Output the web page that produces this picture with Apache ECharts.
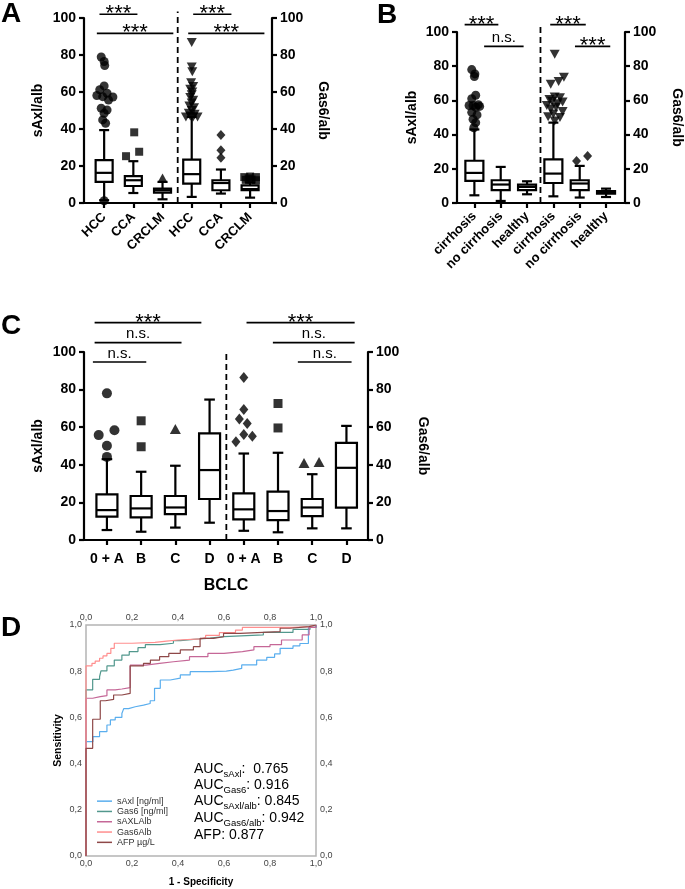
<!DOCTYPE html>
<html>
<head>
<meta charset="utf-8">
<script src="https://cdn.jsdelivr.net/npm/echarts@6/dist/echarts.min.js"></script>
<style>
  html, body { margin: 0; padding: 0; background: #fff; }
  #chart { width: 685px; height: 889px; }
</style>
</head>
<body>
<div id="chart"></div>
<script>
const FONT = '"Liberation Sans", Arial, Helvetica, sans-serif';

// ---- panel A : HCC / CCA / CRCLM (sAxl left half, Gas6 right half)
const catsA = ['HCC', 'CCA', 'CRCLM', 'HCC', 'CCA', 'CRCLM'];
// [min, q1, median, q3, max]
const boxA = [
  [1.5, 11.4, 16.3, 23.2, 39.4],
  [5.4, 9.2, 12.3, 14.5, 22.6],
  [2.0, 5.6, 6.9, 7.8, 11.4],
  [3.3, 10.5, 15.6, 23.5, 46.5],
  [5.1, 6.9, 10.8, 12.3, 18.1],
  [2.9, 6.9, 7.5, 9.5, 11.0]
];
const circA = [[-0.1, 78.9], [0.0, 76.5], [0.02, 74.3], [0.0, 63.3], [-0.15, 61.2], [0.1, 59.3], [-0.25, 58.1],
  [-0.05, 57.5], [0.3, 57.3], [0.15, 55.7], [-0.1, 51.2], [0.1, 50.3], [0.0, 48.5], [-0.05, 44.9], [0.05, 43.1], [0, 1.2]];
const squareA = [[1.03, 38.2], [1.2, 27.7], [0.75, 25.3],
  [4.8, 14], [5.0, 14.3], [5.2, 14], [4.85, 12.5], [5.05, 12.7], [5.2, 12.3], [4.95, 13.3]];
const triUpA = [[2, 13.5]];
const triDownA = [[3, 86.8], [3, 73.5], [3.02, 71], [2.98, 65], [3.05, 63], [2.95, 61.5], [3.02, 60], [3, 58.5],
  [2.95, 57], [3.05, 55.5], [3, 54], [2.92, 52.5], [3.08, 51.5], [3, 50], [2.9, 48.5], [3.1, 48], [2.95, 47],
  [3.05, 46.5], [2.8, 46.5], [3.2, 46.5]];
const diamondA = [[4, 36.7], [4, 28.5], [4, 24.5]];
const sigA = [[-0.16, 1.14, 102, '***'], [-0.25, 2.37, 91.7, '***'], [3.05, 4.36, 102, '***'], [2.88, 5.49, 91.7, '***']];
const dashA = [2.52, 103.5];

// ---- panel B : cirrhosis / no cirrhosis / healthy
const catsB = ['cirrhosis', 'no cirrhosis', 'healthy', 'cirrhosis', 'no cirrhosis', 'healthy'];
const boxB = [
  [4.5, 12.9, 17.6, 24.7, 43],
  [1.2, 7.5, 10.8, 13.3, 21.1],
  [5.1, 7.5, 9.4, 10.8, 12.7],
  [3.9, 11.7, 17.2, 25.5, 47],
  [3.2, 7.5, 11.4, 13.3, 21.7],
  [3.5, 5.5, 6.3, 6.9, 8.4]
];
const circB = [[-0.1, 78], [0.02, 75.5], [0.0, 74], [0.05, 63], [-0.1, 61], [0.15, 57.5], [-0.2, 57], [-0.05, 57],
  [0.2, 56.5], [0.05, 56], [-0.1, 53], [0.1, 51.5], [-0.05, 49], [0.05, 47], [-0.02, 44]];
const triDownB = [[3.05, 87], [3.4, 73.5], [3.2, 71], [2.9, 69.5], [3.05, 62], [3.25, 61.5], [2.85, 60.5],
  [2.95, 59.5], [3.35, 59], [3.15, 58], [2.75, 57], [3.1, 56], [2.9, 55], [3.35, 53.5], [3.0, 52], [2.8, 50.5],
  [3.25, 50], [3.05, 48]];
const diamondB = [[3.88, 24.5], [4.3, 27.5]];
const sigB = [[-0.37, 0.91, 104.3, '***'], [0.37, 1.87, 91.6, 'n.s.'], [2.88, 4.23, 104.3, '***'], [3.82, 5.16, 91.6, '***']];
const dashB = [2.51, 104.5];

// ---- panel C : BCLC stages
const catsC = ['0 + A', 'B', 'C', 'D', '0 + A', 'B', 'C', 'D'];
const boxC = [
  [5.3, 12.4, 15.9, 24.3, 43],
  [4.4, 12.0, 16.8, 23.4, 36.3],
  [6.6, 13.8, 17.3, 23.4, 39.5],
  [9.2, 21.8, 37.2, 56.7, 74.7],
  [4.9, 11.0, 16.3, 24.8, 46.0],
  [4.1, 10.6, 15.4, 25.7, 46.4],
  [6.2, 12.7, 17.3, 21.8, 35.0],
  [6.2, 17.2, 38.4, 51.7, 60.7]
];
const circC = [[0, 78], [0.22, 58.4], [-0.24, 55.8], [0, 50.1], [0, 44.2]];
const squareC = [[1, 63.4], [1, 49.6], [5, 72.6], [5, 59.6]];
const triUpC = [[2, 59], [5.76, 41], [6.2, 41.5]];
const diamondC = [[4, 86.4], [4, 69.4], [3.87, 64.3], [4.1, 62], [4, 56.1], [4.25, 55.2], [3.77, 52.2]];
const sigC = [[-0.41, 1.15, 94.7, 'n.s.'], [-0.36, 2.18, 105, 'n.s.'], [-0.36, 2.76, 115.6, '***'],
  [5.58, 7.15, 94.7, 'n.s.'], [4.85, 7.24, 105, 'n.s.'], [4.08, 7.24, 115.6, '***']];
const dashC = [3.49, 101];

// ---- panel D : ROC curves, [1 - specificity, sensitivity]
const rocNames = ['sAxl [ng/ml]', 'Gas6 [ng/ml]', 'sAXLAlb', 'Gas6Alb', 'AFP µg/L'];
const rocColors = ['#5aaeee', '#52988d', '#c56797', '#ff8e8e', '#8e4848'];
const rocSAxl = [[0, 0], [0, 0.495], [0.03, 0.517], [0.059, 0.538], [0.091, 0.567], [0.106, 0.589], [0.127, 0.6],
  [0.156, 0.617], [0.164, 0.638], [0.185, 0.646], [0.214, 0.653], [0.25, 0.66], [0.279, 0.672], [0.298, 0.726],
  [0.323, 0.762], [0.366, 0.77], [0.41, 0.784], [0.453, 0.798], [0.54, 0.8], [0.61, 0.805], [0.64, 0.812],
  [0.677, 0.827], [0.742, 0.848], [0.786, 0.86], [0.82, 0.875], [0.844, 0.899], [0.9, 0.91], [0.93, 0.92],
  [0.967, 0.99], [1, 1]];
const rocGas6 = [[0, 0], [0, 0.719], [0.029, 0.765], [0.059, 0.776], [0.065, 0.801], [0.091, 0.823], [0.123, 0.848],
  [0.156, 0.87], [0.188, 0.885], [0.226, 0.902], [0.258, 0.915], [0.322, 0.921], [0.38, 0.932], [0.41, 0.938],
  [0.467, 0.943], [0.54, 0.95], [0.6, 0.957], [0.771, 0.968], [0.9, 0.981], [0.974, 0.99], [1, 1]];
const rocSAxlAlb = [[0, 0], [0, 0.683], [0.029, 0.69], [0.062, 0.694], [0.091, 0.719], [0.127, 0.723],
  [0.156, 0.729], [0.192, 0.826], [0.26, 0.834], [0.32, 0.841], [0.38, 0.848], [0.45, 0.863], [0.53, 0.877],
  [0.6, 0.885], [0.68, 0.892], [0.73, 0.906], [0.8, 0.915], [0.85, 0.935], [0.94, 0.957], [0.97, 0.99], [1, 1]];
const rocGas6Alb = [[0, 0], [0, 0.823], [0.026, 0.834], [0.04, 0.844], [0.059, 0.856], [0.074, 0.866],
  [0.091, 0.877], [0.108, 0.899], [0.123, 0.921], [0.2, 0.925], [0.3, 0.93], [0.35, 0.935], [0.4, 0.94],
  [0.5, 0.945], [0.52, 0.955], [0.58, 0.967], [0.65, 0.978], [0.68, 0.99], [0.9, 0.993], [0.97, 1], [1, 1]];
const rocAFP = [[0, 0], [0, 0.466], [0.029, 0.592], [0.062, 0.672], [0.084, 0.678], [0.12, 0.697], [0.156, 0.704],
  [0.192, 0.823], [0.25, 0.834], [0.28, 0.848], [0.32, 0.863], [0.36, 0.877], [0.41, 0.892], [0.467, 0.906],
  [0.496, 0.942], [0.554, 0.949], [0.598, 0.964], [0.67, 0.971], [0.844, 0.986], [0.887, 0.993], [0.97, 1], [1, 1]];
const rocData = [rocSAxl, rocGas6, rocSAxlAlb, rocGas6Alb, rocAFP];
const aucLines = [['AUC', 'sAxl', ':  0.765'], ['AUC', 'Gas6', ': 0.916'], ['AUC', 'sAxl/alb', ': 0.845'],
  ['AUC', 'Gas6/alb', ': 0.942'], ['AFP', '', ': 0.877']];

const invTriangle = 'path://M0,0L10,0L5,9Z';

const myChart = echarts.init(document.getElementById('chart'));

// black GraphPad style axes
const blackLine = { color: '#000', width: 2.2 };
function yBlack(grid, pos, name, gap) {
  return {
    type: 'value', gridIndex: grid, position: pos, min: 0, max: 100, interval: 20,
    name: name, nameLocation: 'middle', nameGap: gap, nameRotate: pos === 'left' ? 90 : -90,
    nameTextStyle: { color: '#000', fontFamily: FONT, fontWeight: 'bold', fontSize: 14 },
    axisLine: { show: true, onZero: false, lineStyle: blackLine },
    axisTick: { show: true, length: 5, lineStyle: blackLine },
    axisLabel: { color: '#000', fontFamily: FONT, fontWeight: 'bold', fontSize: 14, margin: 8 },
    splitLine: { show: false }
  };
}
function xBlack(grid, cats, min, max, rotate, fontSize, margin) {
  const idx = cats.map((c, i) => i);
  return {
    type: 'value', gridIndex: grid, position: 'bottom', min: min, max: max,
    axisLine: { show: true, onZero: false, lineStyle: blackLine },
    axisTick: { show: true, length: 5, lineStyle: blackLine, customValues: idx },
    axisLabel: {
      customValues: idx, rotate: rotate, margin: margin,
      color: '#000', fontFamily: FONT, fontWeight: 'bold', fontSize: fontSize,
      formatter: (v) => cats[Math.round(v)]
    },
    splitLine: { show: false }
  };
}
function xRoc(pos, name) {
  return {
    type: 'value', gridIndex: 3, position: pos, min: 0, max: 1, interval: 0.2,
    name: name, nameLocation: 'middle', nameGap: 21,
    nameTextStyle: { color: '#000', fontFamily: FONT, fontWeight: 'bold', fontSize: 10 },
    axisLine: { show: false }, axisTick: { show: false }, splitLine: { show: false },
    axisLabel: { color: '#444', fontFamily: FONT, fontSize: 9, margin: 3,
      formatter: (v) => v.toFixed(1).replace('.', ',') }
  };
}
function yRoc(pos, name) {
  const ax = xRoc(pos, name);
  ax.nameGap = 22;
  ax.nameTextStyle.fontSize = 10.5;
  ax.axisLabel.margin = 4;
  return ax;
}

function boxSeries(xi, yi, list, start, halfW, capW) {
  return {
    type: 'custom', xAxisIndex: xi, yAxisIndex: yi, silent: true, z: 2,
    data: list.map((b, i) => [start + i].concat(b)),
    encode: { x: 0, y: [1, 2, 3, 4, 5] },
    renderItem: function (params, api) {
      const x = api.value(0);
      const p = [1, 2, 3, 4, 5].map((d) => api.coord([x, api.value(d)]));
      const cx = p[0][0];
      const st = { stroke: '#000', lineWidth: 2.2 };
      return {
        type: 'group',
        children: [
          { type: 'line', shape: { x1: cx, y1: p[0][1], x2: cx, y2: p[1][1] }, style: st },
          { type: 'line', shape: { x1: cx, y1: p[3][1], x2: cx, y2: p[4][1] }, style: st },
          { type: 'line', shape: { x1: cx - capW, y1: p[0][1], x2: cx + capW, y2: p[0][1] }, style: st },
          { type: 'line', shape: { x1: cx - capW, y1: p[4][1], x2: cx + capW, y2: p[4][1] }, style: st },
          { type: 'rect', shape: { x: cx - halfW, y: p[3][1], width: halfW * 2, height: p[1][1] - p[3][1] },
            style: { fill: '#fff', stroke: '#000', lineWidth: 2.2 } },
          { type: 'line', shape: { x1: cx - halfW, y1: p[2][1], x2: cx + halfW, y2: p[2][1] }, style: st }
        ]
      };
    }
  };
}

function dots(xi, yi, data, symbol, size) {
  return {
    type: 'scatter', xAxisIndex: xi, yAxisIndex: yi, data: data, symbol: symbol, symbolSize: size,
    itemStyle: { color: '#000' }, clip: false, silent: true, z: 3
  };
}

function sigSeries(xi, yi, list) {
  return {
    type: 'custom', xAxisIndex: xi, yAxisIndex: yi, silent: true, z: 4,
    data: list.map((s) => [s[0], s[1], s[2]]),
    encode: { x: [0, 1], y: 2 },
    renderItem: function (params, api) {
      const a = api.coord([api.value(0), api.value(2)]);
      const b = api.coord([api.value(1), api.value(2)]);
      const txt = list[params.dataIndex][3];
      const star = txt === '***';
      return {
        type: 'group',
        children: [
          { type: 'line', shape: { x1: a[0], y1: a[1], x2: b[0], y2: b[1] }, style: { stroke: '#000', lineWidth: 1.6 } },
          { type: 'text', x: (a[0] + b[0]) / 2, y: a[1] + (star ? 11 : -1),
            style: { text: txt, fill: '#000', fontFamily: FONT, fontSize: star ? 22 : 15,
              align: 'center', textAlign: 'center', verticalAlign: 'bottom', textVerticalAlign: 'bottom' } }
        ]
      };
    }
  };
}

function dashSeries(xi, yi, d) {
  return {
    type: 'line', xAxisIndex: xi, yAxisIndex: yi, data: [[d[0], 0], [d[0], d[1]]],
    symbol: 'none', clip: false, silent: true,
    lineStyle: { color: '#000', width: 1.8, type: [6, 4] }
  };
}

const titleStyle = { fontSize: 28, fontWeight: 'bold', fontFamily: FONT, color: '#000' };

const option = {
  animation: false,
  backgroundColor: '#fff',
  title: [
    { text: 'A', left: 1, top: 0, padding: 0, textStyle: titleStyle },
    { text: 'B', left: 377, top: 1, padding: 0, textStyle: titleStyle },
    { text: 'C', left: 1, top: 312, padding: 0, textStyle: titleStyle },
    { text: 'D', left: 1, top: 614, padding: 0, textStyle: titleStyle }
  ],
  legend: {
    data: rocNames, orient: 'vertical', left: 97, top: 796, padding: 0,
    icon: 'rect', itemWidth: 15, itemHeight: 1.5, itemGap: 0,
    textStyle: { fontFamily: FONT, fontSize: 9, color: '#333', lineHeight: 10.3 }
  },
  grid: [
    { left: 84, top: 18, width: 188, height: 185 },
    { left: 457, top: 32, width: 171, height: 171 },
    { left: 84, top: 352, width: 284, height: 188 },
    { left: 86, top: 625, width: 230, height: 231, show: true, borderColor: '#b4b4b4', borderWidth: 1.5 }
  ],
  xAxis: [
    xBlack(0, catsA, -0.69, 5.75, 45, 13, 12),
    xBlack(1, catsB, -0.66, 5.72, 45, 13, 11),
    Object.assign(xBlack(2, catsC, -0.67, 7.63, 0, 14, 12), {
      name: 'BCLC', nameLocation: 'middle', nameGap: 38,
      nameTextStyle: { color: '#000', fontFamily: FONT, fontWeight: 'bold', fontSize: 16 }
    }),
    xRoc('bottom', '1 - Specificity'),
    xRoc('top', '')
  ],
  yAxis: [
    yBlack(0, 'left', 'sAxl/alb', 39),
    yBlack(0, 'right', 'Gas6/alb', 44),
    yBlack(1, 'left', 'sAxl/alb', 38),
    yBlack(1, 'right', 'Gas6/alb', 45),
    yBlack(2, 'left', 'sAxl/alb', 39),
    yBlack(2, 'right', 'Gas6/alb', 48),
    yRoc('left', 'Sensitivity'),
    yRoc('right', '')
  ],
  graphic: aucLines.map((t, i) => ({
    type: 'text', left: 194, top: [762, 778, 794, 811, 828][i],
    style: {
      text: '{n|' + t[0] + '}' + (t[1] ? '{s|' + t[1] + '}' : '') + '{n|' + t[2] + '}',
      rich: {
        n: { fontFamily: FONT, fontSize: 14, color: '#000', fill: '#000', lineHeight: 20 },
        s: { fontFamily: FONT, fontSize: 9.5, color: '#000', fill: '#000', verticalAlign: 'bottom' }
      }
    }
  })),
  series: [
    // A
    dashSeries(0, 0, dashA),
    boxSeries(0, 0, boxA.slice(0, 3), 0, 8.5, 5),
    boxSeries(0, 1, boxA.slice(3), 3, 8.5, 5),
    dots(0, 0, circA, 'circle', 9),
    dots(0, 0, squareA, 'rect', 8),
    dots(0, 0, triUpA, 'triangle', [10, 9]),
    dots(0, 1, triDownA, invTriangle, [10, 9]),
    dots(0, 1, diamondA, 'diamond', [9, 10]),
    sigSeries(0, 0, sigA),
    // B
    dashSeries(1, 2, dashB),
    boxSeries(1, 2, boxB.slice(0, 3), 0, 9, 5),
    boxSeries(1, 3, boxB.slice(3), 3, 9, 5),
    dots(1, 2, circB, 'circle', 9),
    dots(1, 3, triDownB, invTriangle, [10, 9]),
    dots(1, 3, diamondB, 'diamond', [9, 10]),
    sigSeries(1, 2, sigB),
    // C
    dashSeries(2, 4, dashC),
    boxSeries(2, 4, boxC.slice(0, 4), 0, 10.5, 5.3),
    boxSeries(2, 5, boxC.slice(4), 4, 10.5, 5.3),
    dots(2, 4, circC, 'circle', 10),
    dots(2, 4, squareC, 'rect', 9),
    dots(2, 4, triUpC, 'triangle', [11, 10]),
    dots(2, 5, diamondC, 'diamond', [9, 11]),
    sigSeries(2, 4, sigC),
    // D
    ...rocData.map((d, i) => ({
      type: 'line', name: rocNames[i], xAxisIndex: 3, yAxisIndex: 6, data: d, step: 'end',
      symbol: 'none', silent: true,
      lineStyle: { color: rocColors[i], width: 1.2 }, itemStyle: { color: rocColors[i] }
    }))
  ]
};

myChart.setOption(option);
window.onresize = () => {
  myChart.resize();
};
</script>
</body>
</html>
